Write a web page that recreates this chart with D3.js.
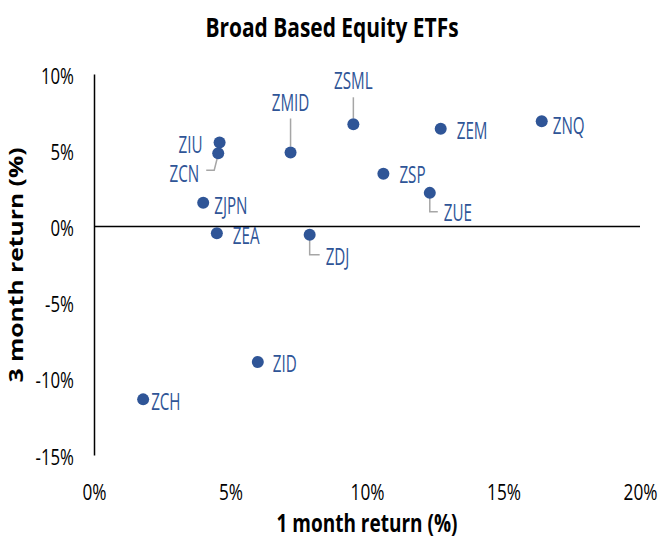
<!DOCTYPE html>
<html>
<head>
<meta charset="utf-8">
<script src="https://cdn.jsdelivr.net/npm/d3@7"></script>
<style>
  body { margin: 0; background: #fff; }
  svg { display: block; }
</style>
</head>
<body>
<svg class="chart"></svg>
<script>
const width = 658;
const height = 542;

// data
const tickers    = ['ZNQ', 'ZEM', 'ZSML', 'ZUE', 'ZSP', 'ZDJ', 'ZMID', 'ZID', 'ZIU', 'ZCN', 'ZEA', 'ZJPN', 'ZCH'];
const oneMonth   = [16.4, 12.7, 9.5, 12.3, 10.6, 7.9, 7.2, 6.0, 4.6, 4.55, 4.5, 4.0, 1.8];
const threeMonth = [6.9, 6.4, 6.7, 2.2, 3.45, -0.55, 4.85, -8.9, 5.5, 4.8, -0.45, 1.55, -11.35];
const xTicks = [0, 5, 10, 15, 20];
const yTicks = [-15, -10, -5, 0, 5, 10];

// where each label sits relative to its point (px), plus leader lines
const labelLayout = {
    ZNQ:  { dx: 11,  dy: 4,   anchor: 'start' },
    ZEM:  { dx: 16,  dy: 2,   anchor: 'start' },
    ZSML: { dx: 0,   dy: -44, anchor: 'middle', leader: [[0, -27], [0, -6]] },
    ZUE:  { dx: 14,  dy: 20,  anchor: 'start',  leader: [[0, 5], [0, 19], [8, 19]] },
    ZSP:  { dx: 16,  dy: 1,   anchor: 'start' },
    ZDJ:  { dx: 16,  dy: 22,  anchor: 'start',  leader: [[0, 4], [0, 20], [10, 20]] },
    ZMID: { dx: 0,   dy: -50, anchor: 'middle', leader: [[0, -34], [0, -6]] },
    ZID:  { dx: 15,  dy: 2,   anchor: 'start' },
    ZIU:  { dx: -17, dy: 2,   anchor: 'end' },
    ZCN:  { dx: -19, dy: 20,  anchor: 'end',    leader: [[-12, 17], [-4, 17], [-1, 5]] },
    ZEA:  { dx: 16,  dy: 2,   anchor: 'start' },
    ZJPN: { dx: 11,  dy: 3,   anchor: 'start' },
    ZCH:  { dx: 8,   dy: 2,   anchor: 'start' }
};

const blue = '#2f5597';
const condensed = 0.66;   // the reference is squeezed sideways / stretched tall
const stretch = 1.3;

const points = tickers.map(function(t, i) {
    return { name: t, m1: oneMonth[i], m3: threeMonth[i] };
});

const x = d3.scaleLinear().domain([0, 20]).range([94, 640]);
const y = d3.scaleLinear().domain([-15, 10]).range([455, 74]);

const svg = d3.select('.chart')
              .attr('width', width)
              .attr('height', height);

// title
svg.append('text')
   .attr('transform', 'translate(332,37) scale(0.775,1)')
   .attr('text-anchor', 'middle')
   .attr('font-family', 'Open Sans')
   .attr('font-weight', 700)
   .attr('font-size', 27)
   .attr('fill', '#000')
   .text('Broad Based Equity ETFs');

// y axis (line + labels)
const yAxis = svg.append('g')
                 .attr('transform', 'translate(' + x(0) + ',0)')
                 .call(d3.axisLeft(y)
                         .tickValues(yTicks)
                         .tickSize(0)
                         .tickPadding(0)
                         .tickFormat(function(d) { return d + '%'; }));
yAxis.select('.domain').attr('stroke', '#000').attr('stroke-width', 1.5);
yAxis.selectAll('text')
     .attr('x', null)
     .attr('dy', '0.43em')
     .attr('transform', 'translate(-20,0) scale(0.8,1)')
     .attr('font-family', 'Open Sans')
     .attr('font-size', 21)
     .attr('fill', '#000');

// x axis labels along the bottom
const xAxis = svg.append('g')
                 .attr('transform', 'translate(0,' + y(-15) + ')')
                 .call(d3.axisBottom(x)
                         .tickValues(xTicks)
                         .tickSize(0)
                         .tickPadding(0)
                         .tickFormat(function(d) { return d + '%'; }));
xAxis.select('.domain').remove();
xAxis.selectAll('text')
     .attr('y', null)
     .attr('dy', null)
     .attr('transform', 'translate(0,45) scale(0.82,1)')
     .attr('font-family', 'Open Sans')
     .attr('font-size', 21)
     .attr('fill', '#000');

// zero line
svg.append('line')
   .attr('x1', x(0))
   .attr('x2', x(20))
   .attr('y1', y(0))
   .attr('y2', y(0))
   .attr('stroke', '#000')
   .attr('stroke-width', 1.5);

// axis titles
svg.append('text')
   .attr('transform', 'translate(367,532) scale(1,' + stretch + ')')
   .attr('text-anchor', 'middle')
   .attr('font-family', 'Open Sans')
   .attr('font-weight', 700)
   .attr('font-size', 19)
   .text('1 month return (%)');

svg.append('text')
   .attr('transform', 'translate(23,265) rotate(-90) scale(' + stretch + ',1)')
   .attr('text-anchor', 'middle')
   .attr('font-family', 'Open Sans')
   .attr('font-weight', 700)
   .attr('font-size', 19)
   .text('3 month return (%)');

// leader lines
svg.append('g')
   .selectAll('path')
   .data(points.filter(function(d) { return labelLayout[d.name].leader; }))
   .join('path')
   .attr('fill', 'none')
   .attr('stroke', '#a6a6a6')
   .attr('stroke-width', 1.5)
   .attr('d', function(d) {
       const px = x(d.m1), py = y(d.m3);
       return d3.line()(labelLayout[d.name].leader.map(function(p) {
           return [px + p[0], py + p[1]];
       }));
   });

// markers
svg.append('g')
   .selectAll('circle')
   .data(points)
   .join('circle')
   .attr('cx', function(d) { return x(d.m1); })
   .attr('cy', function(d) { return y(d.m3); })
   .attr('r', 6)
   .attr('fill', blue);

// labels
svg.append('g')
   .selectAll('text')
   .data(points)
   .join('text')
   .attr('transform', function(d) {
       const l = labelLayout[d.name];
       return 'translate(' + (x(d.m1) + l.dx) + ',' + (y(d.m3) + l.dy) + ') scale(' + condensed + ',1)';
   })
   .attr('text-anchor', function(d) { return labelLayout[d.name].anchor; })
   .attr('dy', '0.36em')
   .attr('font-family', 'Open Sans')
   .attr('font-size', 23)
   .attr('fill', blue)
   .text(function(d) { return d.name; });
</script>
</body>
</html>
